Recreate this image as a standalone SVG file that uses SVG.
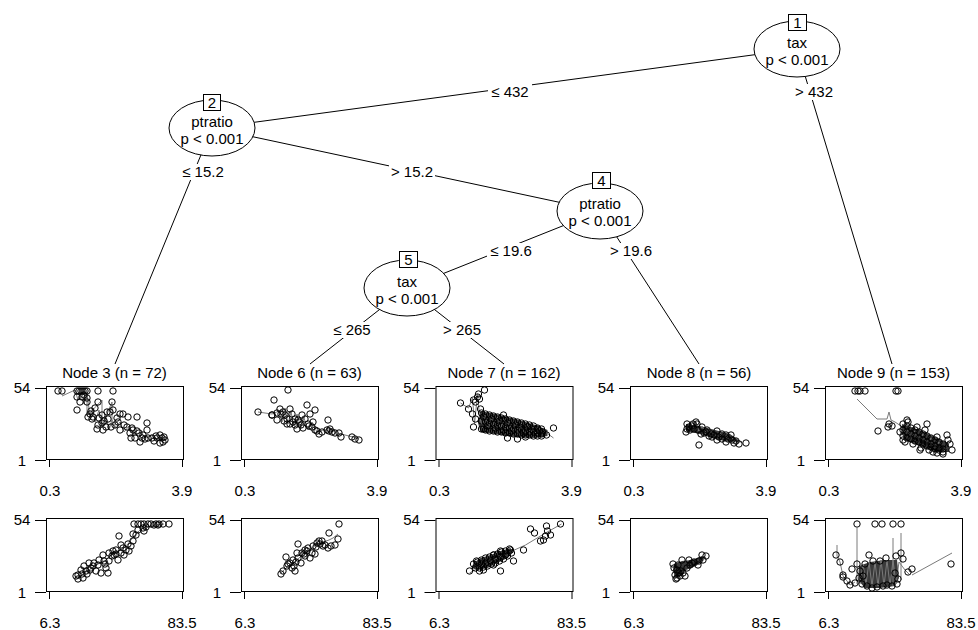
<svg xmlns="http://www.w3.org/2000/svg" width="978" height="630" viewBox="0 0 978 630">
<defs>
<style>
.t{font-family:"Liberation Sans",Arial,sans-serif;font-size:15px;fill:#000;text-anchor:middle}
.e{stroke:#000;stroke-width:1;fill:none}
.el{fill:#fff;stroke:#000;stroke-width:1}
.bx{fill:#fff;stroke:#000;stroke-width:1}
.lb{fill:#fff;stroke:none}
.ax{stroke:#000;stroke-width:1;fill:none}
.pts{fill:none;stroke:none;marker-start:url(#o);marker-mid:url(#o);marker-end:url(#o)}
.g{fill:none;stroke:#7a7a7a;stroke-width:1}
.dn{fill:#3a3a3a;stroke:none}
</style>
<marker id="o" markerUnits="userSpaceOnUse" markerWidth="10" markerHeight="10" refX="5" refY="5" viewBox="0 0 10 10" overflow="visible"><circle cx="5" cy="5" r="3.2" fill="none" stroke="#000" stroke-width="1"/></marker>
<g id="axT">
<rect class="ax" x="0.5" y="0.5" width="137" height="73"/>
<line class="ax" x1="-11" y1="2.5" x2="0" y2="2.5"/>
<line class="ax" x1="-11" y1="74.5" x2="0" y2="74.5"/>
<line class="ax" x1="3.5" y1="74" x2="3.5" y2="81"/>
<line class="ax" x1="136.5" y1="74" x2="136.5" y2="81"/>
<text class="t" x="-24" y="7">54</text>
<text class="t" x="-24" y="80">1</text>
<text class="t" x="4" y="110">0.3</text>
<text class="t" x="136" y="110">3.9</text>
</g>
<g id="axB">
<rect class="ax" x="0.5" y="0.5" width="137" height="73"/>
<line class="ax" x1="-11" y1="2.5" x2="0" y2="2.5"/>
<line class="ax" x1="-11" y1="74.5" x2="0" y2="74.5"/>
<line class="ax" x1="3.5" y1="74" x2="3.5" y2="81"/>
<line class="ax" x1="136.5" y1="74" x2="136.5" y2="81"/>
<text class="t" x="-24" y="7">54</text>
<text class="t" x="-24" y="80">1</text>
<text class="t" x="4" y="110">6.3</text>
<text class="t" x="136" y="110">83.5</text>
</g>
</defs>
<rect width="978" height="630" fill="#fff"/>

<g id="connectors">
<line class="e" x1="797" y1="49" x2="212" y2="128"/>
<line class="e" x1="797" y1="49" x2="892" y2="364"/>
<line class="e" x1="212" y1="128" x2="115" y2="364"/>
<line class="e" x1="212" y1="128" x2="600" y2="211"/>
<line class="e" x1="600" y1="211" x2="407" y2="288"/>
<line class="e" x1="600" y1="211" x2="699" y2="364"/>
<line class="e" x1="407" y1="288" x2="310" y2="364"/>
<line class="e" x1="407" y1="288" x2="504" y2="364"/>
<rect class="lb" x="488" y="84" width="44" height="16"/><text class="t" x="510" y="97">≤ 432</text>
<rect class="lb" x="793" y="84" width="42" height="16"/><text class="t" x="814" y="97">&gt; 432</text>
<rect class="lb" x="179" y="164" width="48" height="16"/><text class="t" x="203" y="177">≤ 15.2</text>
<rect class="lb" x="389" y="164" width="46" height="16"/><text class="t" x="412" y="177">&gt; 15.2</text>
<rect class="lb" x="487" y="243" width="48" height="16"/><text class="t" x="511" y="256">≤ 19.6</text>
<rect class="lb" x="608" y="243" width="46" height="16"/><text class="t" x="631" y="256">&gt; 19.6</text>
<rect class="lb" x="330" y="322" width="44" height="16"/><text class="t" x="352" y="335">≤ 265</text>
<rect class="lb" x="441" y="322" width="42" height="16"/><text class="t" x="462" y="335">&gt; 265</text>
</g>

<g id="node1">
<ellipse class="el" cx="797" cy="49" rx="43" ry="28"/>
<rect class="bx" x="788.5" y="14.5" width="18" height="16"/>
<text class="t" x="797.5" y="28">1</text>
<text class="t" x="797" y="48">tax</text>
<text class="t" x="797" y="65">p &lt; 0.001</text>
</g>
<g id="node2">
<ellipse class="el" cx="212" cy="128" rx="43" ry="28"/>
<rect class="bx" x="203.5" y="94.5" width="17" height="16"/>
<text class="t" x="212" y="108">2</text>
<text class="t" x="212" y="127">ptratio</text>
<text class="t" x="212" y="144">p &lt; 0.001</text>
</g>
<g id="node4">
<ellipse class="el" cx="600" cy="211" rx="43" ry="28"/>
<rect class="bx" x="592.5" y="172.5" width="18" height="16"/>
<text class="t" x="601.5" y="186">4</text>
<text class="t" x="600" y="209">ptratio</text>
<text class="t" x="600" y="226">p &lt; 0.001</text>
</g>
<g id="node5">
<ellipse class="el" cx="407" cy="288" rx="43" ry="28"/>
<rect class="bx" x="399.5" y="251.5" width="18" height="16"/>
<text class="t" x="408.5" y="265">5</text>
<text class="t" x="407" y="287">tax</text>
<text class="t" x="407" y="304">p &lt; 0.001</text>
</g>

<g id="node3">
<text class="t" x="114.5" y="378">Node 3 (n = 72)</text>
<g transform="translate(46,386)">
<use href="#axT"/>
<polyline class="g" points="16,10 29,4 32,14 36,6 38,18 41,8 44,30 47,22 49,36 53,24 56,40 60,30 63,44 66,34 70,42 74,36 78,46 83,40 88,50 94,46 100,52 106,49 112,54 118,53"/>
<polyline class="g" points="41,10 41,30 56,14 56,40 66,16 66,34"/>
<polyline class="pts" points="12,5 16,5 31,5 33,5 35,5 37,5 39,5 41,5 52,5 67,5 31,11 36,11 41,12 34,16 31,24 41,16 52,16 49,22 44,28 42,31 47,31 53,32 56,29 64,26 66,16 61,26 67,24 52,39 56,37 51,43 60,41 65,41 62,33 71,32 74,28 77,28 82,31 78,39 81,41 86,42 91,31 87,44 91,45 93,47 85,52 89,52 94,56 97,49 101,37 101,44 102,52 106,52 111,52 114,49 116,52 117,56 114,57 118,51 74,44 69,39 57,44 46,33 38,9 45,25 58,35 72,36 84,47 96,52 108,55 110,50 119,54 99,53"/>
</g>
<g transform="translate(46,518)">
<use href="#axB"/>
<polyline class="g" points="32,60 40,54 46,50 52,46 58,44 64,38 70,34 76,31 82,26 88,18 94,12 100,9 110,7 118,6"/>
<polyline class="pts" points="88,6 92,6 95,6 98,6 102,6 105,6 110,6 113,6 123,6 92,12 87,16 98,13 73,18 75,27 70,32 80,32 83,33 85,28 67,33 63,35 72,42 57,37 53,42 48,45 43,45 45,50 38,48 35,52 32,57 32,61 37,60 41,56 50,53 55,55 62,55 63,43 58,43 60,50 68,37 75,35 78,37 87,23 90,17 97,10 112,7 52,47 47,48 40,53 36,56 44,52 66,38 77,30 82,26 100,9 108,7 117,6 59,46 70,36 30,58"/>
</g>
</g>

<g id="node6">
<text class="t" x="309.5" y="378">Node 6 (n = 63)</text>
<g transform="translate(241,386)">
<use href="#axT"/>
<polyline class="g" points="17,26 31,28 38,25 41,36 44,22 47,38 50,26 53,40 56,28 60,42 63,32 67,44 71,36 76,46 82,44 90,44 96,47 104,49 112,51 118,53"/>
<polyline class="pts" points="47,4 33,14 17,26 31,29 36,34 39,23 42,26 49,23 51,28 46,33 49,38 54,39 57,34 61,29 66,19 74,24 69,28 64,33 67,38 72,36 71,41 74,44 78,48 54,33 60,39 52,36 87,34 89,43 86,44 91,46 98,47 100,51 111,51 114,53 118,54 44,29 40,28 31,29 56,43 62,42 68,40 88,45 94,47 76,45 81,46 58,36 46,38 36,27 43,35"/>
</g>
<g transform="translate(241,518)">
<use href="#axB"/>
<polyline class="g" points="40,55 46,49 52,45 58,40 64,35 70,31 76,26 82,24 88,22 92,20 97,16"/>
<polyline class="pts" points="98,6 88,15 97,21 94,27 87,30 81,23 78,23 76,25 72,28 71,35 67,30 64,32 64,38 61,35 57,26 56,35 57,40 52,42 53,48 49,45 45,39 46,48 42,53 40,56 51,50 54,53 60,45 69,40 74,36 82,28 47,46 55,44 63,36 66,33 75,29 79,26 84,27 90,28"/>
</g>
</g>

<g id="node7">
<text class="t" x="504" y="378">Node 7 (n = 162)</text>
<g transform="translate(435.5,386)">
<use href="#axT"/>
<polygon class="dn" points="45,25 60,28 80,33 100,39 112,44 112,50 100,52 80,51 60,48 45,46 42,35"/>
<polyline class="g" points="25,17 33,22 37,12 39,38 42,8 44,30 47,42 50,28 53,44 56,30 59,45 62,31 65,46 68,32 71,47 74,34 77,48 80,35 83,48 86,37 89,49 92,38 95,49 98,40 101,50 104,42 107,50 110,46 118,52"/>
<polyline class="pts" points="49,4 43,8 42,11 44,13 38,14 40,16 25,17 33,23 45,23 40,33 38,41 37,28 48,43 68,29 72,52 118,42 111,49 107,46 102,43 92,41 90,51 82,53 46,27 46,35 46,43 50,28 50,36 50,44 54,29 54,37 54,45 58,30 58,38 58,45 62,31 62,39 62,46 66,32 66,40 66,46 70,33 70,41 70,47 74,34 74,42 74,47 78,35 78,43 78,48 82,36 82,44 82,48 86,37 86,44 86,49 90,38 90,45 90,49 94,39 94,46 94,49 98,40 98,46 98,50 102,42 102,47 102,50 106,43 106,48 106,50 48,31 52,40 56,33 60,42 64,35 68,44 72,37 76,45 80,39 84,41 88,47 96,43 104,45"/>
</g>
<g transform="translate(435.5,518)">
<use href="#axB"/>
<polygon class="dn" points="38,45 45,40 55,37 65,33 75,30 78,34 72,40 62,45 52,50 42,52 36,50"/>
<polyline class="g" points="34,55 50,46 70,36 90,27 110,15 126,6"/>
<polyline class="pts" points="125,6 111,8 95,11 99,15 112,13 115,17 110,18 105,23 108,22 88,32 75,32 65,33 58,37 78,43 65,53 34,53 41,43 38,46 42,44 46,42 50,40 54,39 58,37 62,36 66,34 70,33 74,31 40,50 44,50 48,49 52,48 56,46 60,45 64,43 68,41 72,38 76,35 46,46 50,45 55,43 60,41 65,39 70,37 44,53 48,52 58,47"/>
</g>
</g>

<g id="node8">
<text class="t" x="699" y="378">Node 8 (n = 56)</text>
<g transform="translate(630,386)">
<use href="#axT"/>
<polygon class="dn" points="56,38 70,40 85,44 100,48 110,55 100,56 85,53 70,48 56,45"/>
<polyline class="g" points="57,44 60,36 63,44 66,36 69,46 72,40 76,48 80,44 85,50 90,47 95,52 100,50 106,56 112,56"/>
<polyline class="pts" points="57,38 63,38 67,38 66,36 56,46 69,59 72,41 77,44 81,48 87,45 92,48 96,49 101,49 102,54 96,56 104,57 109,58 116,57 87,54 59,41 71,48 82,51 76,46 89,51 60,44 64,43 68,44 74,47 79,50 84,49 92,53 98,53 106,55 62,40 57,43"/>
</g>
<g transform="translate(630,518)">
<use href="#axB"/>
<polygon class="dn" points="44,46 52,43 62,42 72,38 74,42 66,48 56,52 50,58 45,60 43,52"/>
<polyline class="pts" points="43,46 47,52 45,57 46,61 55,58 52,42 59,42 62,45 69,43 72,37 76,38 73,42 68,47 57,50 51,53 44,50 48,47 50,58 53,55 60,47 64,44 49,55 47,60"/>
</g>
</g>

<g id="node9">
<text class="t" x="893.5" y="378">Node 9 (n = 153)</text>
<g transform="translate(825,386)">
<use href="#axT"/>
<polygon class="dn" points="77,38 95,44 112,52 124,58 124,66 110,66 95,60 80,54 76,46"/>
<polyline class="g" points="32,13 52,33 62,33 64,26 66,34 70,36 76,40 78,48 82,42 86,52 90,45 94,56 98,48 102,60 106,52 110,63 114,56 118,66 122,62"/>
<polyline class="pts" points="30,5 33,5 35,5 40,5 71,5 73,5 53,45 64,38 67,40 63,41 82,34 83,36 102,38 112,51 122,49 123,54 125,58 127,64 78,54 75,46 95,64 108,66 118,68 78,38 78,44 78,50 82,40 82,46 82,52 86,42 86,48 86,53 90,44 90,50 90,55 94,46 94,52 94,56 98,48 98,54 98,58 102,50 102,56 102,60 106,52 106,58 106,61 110,54 110,60 110,63 114,56 114,62 114,64 118,58 118,63 118,66 80,56 88,58 96,62 104,64 112,67 100,44 92,41"/>
</g>
<g transform="translate(825,518)">
<use href="#axB"/>
<polygon class="dn" points="34,48 45,44 60,42 72,42 74,60 70,68 55,70 40,70 33,62"/>
<polyline class="g" points="32,10 32,66"/>
<polyline class="g" points="68,20 68,68"/>
<polyline class="g" points="76,15 76,62"/>
<polyline class="g" points="12,27 12,38 15,44 18,58 22,63 25,67 30,64"/>
<polyline class="g" points="87,57 127,35"/>
<polyline class="g" points="35,66 38,46 41,66 44,44 47,68 50,44 53,68 56,42 59,68 62,42 65,68 68,42 71,66 74,44 80,52 84,56"/>
<polyline class="pts" points="32,6 50,6 57,6 68,6 76,6 11,37 15,44 18,57 18,59 22,63 25,67 27,51 32,46 35,53 40,46 44,37 48,43 55,43 61,40 71,38 76,35 78,41 83,54 87,51 73,61 72,66 42,68 47,70 52,69 62,67 126,46 30,65 37,66 58,68 67,68 34,60 70,55 38,58"/>
</g>
</g>
</svg>
